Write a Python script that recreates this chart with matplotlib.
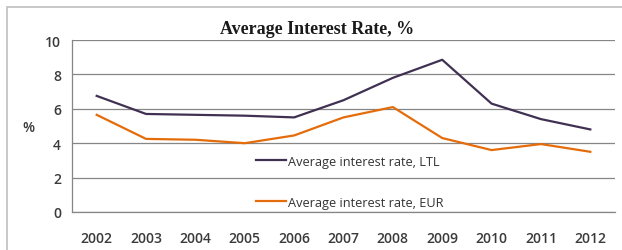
import matplotlib.pyplot as plt
from matplotlib.patches import Rectangle

years = ['2002', '2003', '2004', '2005', '2006', '2007', '2008', '2009', '2010', '2011', '2012']
ltl = [6.75, 5.7, 5.65, 5.6, 5.5, 6.5, 7.8, 8.85, 6.3, 5.4, 4.8]
eur = [5.65, 4.25, 4.2, 4.0, 4.45, 5.5, 6.1, 4.3, 3.6, 3.95, 3.5]

fig = plt.figure(figsize=(6.22, 2.51), dpi=100)
# outer chart border (runs off the right and bottom edges)
fig.patches.append(Rectangle((7.5 / 622, -0.05), 1.0, 1 - 8 / 251 + 0.05, transform=fig.transFigure,
                             fill=False, edgecolor='#bfbfbf', linewidth=1.2))

ax = fig.add_axes([72 / 622, 1 - 213 / 251, 543 / 622, 172 / 251])
x = range(len(years))
ax.plot(x, ltl, color='#403152', linewidth=1.6, label='Average interest rate, LTL')
ax.plot(x, eur, color='#e46c0a', linewidth=1.6, label='Average interest rate, EUR')

ax.set_xlim(-0.5, len(years) - 0.5)
ax.set_ylim(0, 10)
ax.set_yticks([0, 2, 4, 6, 8, 10])
ax.set_xticks(list(x))
ax.set_xticklabels(years)
ax.yaxis.grid(True, color='#868686', linewidth=0.9)
ax.set_axisbelow(True)
for s in ['top', 'right']:
    ax.spines[s].set_visible(False)
for s in ['left', 'bottom']:
    ax.spines[s].set_color('#868686')
    ax.spines[s].set_linewidth(0.9)
ax.tick_params(length=0, labelsize=10, labelcolor='#3a3a3a', pad=8)
for lab in ax.get_xticklabels() + ax.get_yticklabels():
    lab.set_family('Open Sans')
    lab.set_fontweight('semibold')
ax.tick_params(axis='x', pad=14)

fig.text(28 / 622, 1 - 128 / 251, '%', ha='center', va='center', fontsize=10,
         family='Open Sans', fontweight='semibold', color='#3a3a3a')

fig.text(0.51, 1 - 30 / 251, 'Average Interest Rate, %', ha='center', va='center',
         fontsize=13, fontweight='bold', family='Liberation Serif', color='#1a1a1a')

leg = ax.legend(loc='upper left', bbox_to_anchor=(0.318, 0.40), frameon=False,
                labelspacing=2.2, handlelength=2.3, handletextpad=0.2,
                prop={'family': 'Open Sans', 'size': 9.2})
for t in leg.get_texts():
    t.set_color('#333333')

fig.savefig('out.png', dpi=100)
